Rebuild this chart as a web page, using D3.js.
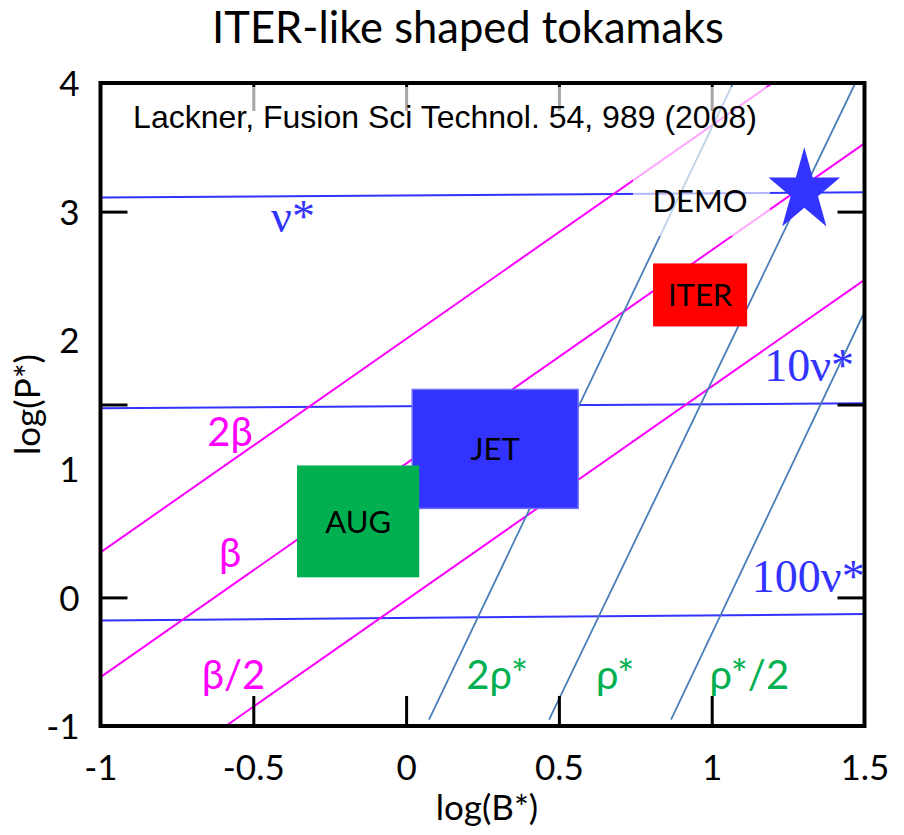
<!DOCTYPE html>
<html>
<head>
<meta charset="utf-8">
<script src="https://cdn.jsdelivr.net/npm/d3@7"></script>
<style>
  body { margin: 0; background: #fff; }
  svg { display: block; }
</style>
</head>
<body>
<svg id="chart" width="904" height="835"></svg>
<script>
// axis ticks and labels
var xTickLabels = [-1, -0.5, 0, 0.5, 1, 1.5];
var yTickLabels = [-1, 0, 1, 2, 3, 4];
var xTickMarks = [-0.5, 0, 0.5, 1];
var yTickMarks = [0, 1.5, 3];

// constant collisionality lines: log(P*) at log(B*) = -1 and 1.5
var nuNames = ["ν*", "10ν*", "100ν*"];
var nuLeft = [3.11, 1.47, -0.18];
var nuRight = [3.15, 1.51, -0.13];

// constant beta lines: [B0, P0, B1, P1]
var betaNames = ["2β", "β", "β/2"];
var betaLines = [[-1, 0.35, 1.199, 4.0], [-1, -0.62, 1.5, 3.53], [-0.59, -1, 1.5, 2.47]];

// constant rho* lines: [B0, P0, B1, P1]
var rhoNames = ["2ρ*", "ρ*", "ρ*/2"];
var rhoLines = [[0.075, -0.95, 1.07, 4.0], [0.468, -0.95, 1.47, 4.0], [0.867, -0.95, 1.5, 2.22]];

// devices (boxes in log B*, log P*)
var devNames = ["JET", "AUG", "ITER"];
var devB0 = [0.020, -0.357, 0.808];
var devB1 = [0.563, 0.043, 1.116];
var devP0 = [0.692, 0.156, 2.107];
var devP1 = [1.617, 1.026, 2.597];

var demoB = 1.303;
var demoP = 3.16;

// ---- layout / style ----
var blue = "#3333ff", magenta = "#ff00ff", steel = "#4a7ebb", green = "#00b050";
var devColors = {JET: "#3333ff", AUG: "#00b050", ITER: "#ff0000"};
var sans = "Lato, 'Noto Sans', sans-serif";
var serif = "'Liberation Serif', 'DejaVu Serif', serif";

// label anchors (data coords: centre x, baseline y)
var nuPos = [[-0.37, 2.84], [1.319, 1.68], [1.316, 0.04]];
var betaPos = [[-0.576, 1.18], [-0.576, 0.233], [-0.565, -0.715]];
var rhoPos = [[0.298, -0.715], [0.684, -0.715], [1.123, -0.715]];

var svg = d3.select("#chart");

var x = d3.scaleLinear().domain([-1, 1.5]).range([100.5, 864.5]);
var y = d3.scaleLinear().domain([-1, 4]).range([726, 83]);

var pLeft = x(-1), pRight = x(1.5), pTop = y(4), pBottom = y(-1);
var fmt = function (d) { return String(d); };

svg.append("text")
    .attr("x", 468).attr("y", 43)
    .attr("text-anchor", "middle")
    .style("font-family", sans).style("font-size", "43.5px")
    .text("ITER-like shaped tokamaks");

svg.append("clipPath").attr("id", "plotclip")
    .append("rect")
    .attr("x", pLeft).attr("y", pTop)
    .attr("width", pRight - pLeft).attr("height", pBottom - pTop);

var plot = svg.append("g").attr("clip-path", "url(#plotclip)");

// nu* lines
plot.selectAll("line.nu").data(nuLeft).enter()
    .append("line").attr("class", "nu")
    .attr("x1", x(-1)).attr("y1", function (d) { return y(d); })
    .attr("x2", x(1.5)).attr("y2", function (d, i) { return y(nuRight[i]); })
    .attr("stroke", blue).attr("stroke-width", 2);

// beta lines
plot.selectAll("line.beta").data(betaLines).enter()
    .append("line").attr("class", "beta")
    .attr("x1", function (d) { return x(d[0]); }).attr("y1", function (d) { return y(d[1]); })
    .attr("x2", function (d) { return x(d[2]); }).attr("y2", function (d) { return y(d[3]); })
    .attr("stroke", magenta).attr("stroke-width", 2);

// rho* lines
plot.selectAll("line.rho").data(rhoLines).enter()
    .append("line").attr("class", "rho")
    .attr("x1", function (d) { return x(d[0]); }).attr("y1", function (d) { return y(d[1]); })
    .attr("x2", function (d) { return x(d[2]); }).attr("y2", function (d) { return y(d[3]); })
    .attr("stroke", steel).attr("stroke-width", 1.8);

// tick marks (inside)
var tickStyle = function (g) {
    g.select(".domain").remove();
    g.selectAll(".tick line").attr("stroke", "#000").attr("stroke-width", 3);
};
svg.append("g").attr("transform", "translate(0," + pBottom + ")")
    .call(d3.axisBottom(x).tickValues(xTickMarks).tickSize(-30).tickFormat(""))
    .call(tickStyle);
svg.append("g").attr("transform", "translate(0," + pTop + ")")
    .call(d3.axisTop(x).tickValues(xTickMarks).tickSize(-28).tickFormat(""))
    .call(tickStyle);
svg.append("g").attr("transform", "translate(" + pLeft + ",0)")
    .call(d3.axisLeft(y).tickValues(yTickMarks).tickSize(-27).tickFormat(""))
    .call(tickStyle);
svg.append("g").attr("transform", "translate(" + pRight + ",0)")
    .call(d3.axisRight(y).tickValues(yTickMarks).tickSize(-27).tickFormat(""))
    .call(tickStyle);

// translucent text boxes (reference + DEMO)
svg.append("rect").attr("x", 120).attr("y", pTop + 4).attr("width", 650).attr("height", 56)
    .attr("fill", "#fff").attr("opacity", 0.65);
svg.append("rect").attr("x", 633).attr("y", pTop + 60).attr("width", 137).attr("height", 93)
    .attr("fill", "#fff").attr("opacity", 0.65);

svg.append("text")
    .attr("x", 445).attr("y", 128)
    .attr("text-anchor", "middle")
    .style("font-family", "'Liberation Sans', Arial, sans-serif").style("font-size", "32px")
    .text("Lackner, Fusion Sci Technol. 54, 989 (2008)");

// device boxes
var order = [0, 1, 2];
var boxes = svg.selectAll("g.dev").data(order).enter().append("g").attr("class", "dev");
boxes.append("rect")
    .attr("x", function (i) { return x(devB0[i]); })
    .attr("y", function (i) { return y(devP1[i]); })
    .attr("width", function (i) { return x(devB1[i]) - x(devB0[i]); })
    .attr("height", function (i) { return y(devP0[i]) - y(devP1[i]); })
    .attr("fill", function (i) { return devColors[devNames[i]]; })
    .attr("stroke", function (i) { return devNames[i] === "JET" ? "#6f6fff" : "none"; })
    .attr("stroke-width", 1.5);
boxes.append("text")
    .attr("x", function (i) { return (x(devB0[i]) + x(devB1[i])) / 2; })
    .attr("y", function (i) { return (y(devP0[i]) + y(devP1[i])) / 2; })
    .attr("dy", "0.36em")
    .attr("text-anchor", "middle")
    .style("font-family", sans).style("font-size", "31px")
    .text(function (i) { return devNames[i]; });

// DEMO
svg.append("text")
    .attr("x", 700).attr("y", 212)
    .attr("text-anchor", "middle")
    .style("font-family", sans).style("font-size", "31px")
    .text("DEMO");
svg.append("path")
    .attr("d", d3.symbol().type(d3.symbolStar).size(2150)())
    .attr("transform", "translate(" + x(demoB) + "," + y(demoP) + ") scale(0.86,1)")
    .attr("fill", blue);

// frame
svg.append("rect")
    .attr("x", pLeft).attr("y", pTop)
    .attr("width", pRight - pLeft).attr("height", pBottom - pTop)
    .attr("fill", "none").attr("stroke", "#000").attr("stroke-width", 4);

// tick labels
var xl = svg.append("g").attr("transform", "translate(0," + pBottom + ")")
    .call(d3.axisBottom(x).tickValues(xTickLabels).tickSize(0).tickFormat(fmt));
xl.select(".domain").remove();
xl.selectAll("text").attr("y", 54).attr("dy", 0)
    .style("font-family", sans).style("font-size", "35px").attr("fill", "#000");

var yl = svg.append("g").attr("transform", "translate(" + pLeft + ",0)")
    .call(d3.axisLeft(y).tickValues(yTickLabels).tickSize(0).tickFormat(fmt));
yl.select(".domain").remove();
yl.selectAll("text").attr("x", -21).attr("dy", "0.36em")
    .style("font-family", sans).style("font-size", "35px").attr("fill", "#000");

// axis titles
svg.append("text")
    .attr("x", 487).attr("y", 820)
    .attr("text-anchor", "middle")
    .style("font-family", sans).style("font-size", "35px")
    .text("log(B*)");
svg.append("text")
    .attr("transform", "translate(40," + ((pTop + pBottom) / 2) + ") rotate(-90)")
    .attr("text-anchor", "middle")
    .style("font-family", sans).style("font-size", "35px")
    .text("log(P*)");

// line labels
svg.selectAll("text.nu").data(nuNames).enter().append("text").attr("class", "nu")
    .attr("x", function (d, i) { return x(nuPos[i][0]); })
    .attr("y", function (d, i) { return y(nuPos[i][1]); })
    .attr("text-anchor", "middle")
    .attr("fill", blue)
    .style("font-family", serif).style("font-size", "46px")
    .text(function (d) { return d; });

svg.selectAll("text.beta").data(betaNames).enter().append("text").attr("class", "beta")
    .attr("x", function (d, i) { return x(betaPos[i][0]); })
    .attr("y", function (d, i) { return y(betaPos[i][1]); })
    .attr("text-anchor", "middle")
    .attr("fill", magenta)
    .style("font-family", sans).style("font-size", "40px")
    .text(function (d) { return d; });

svg.selectAll("text.rho").data(rhoNames).enter().append("text").attr("class", "rho")
    .attr("x", function (d, i) { return x(rhoPos[i][0]); })
    .attr("y", function (d, i) { return y(rhoPos[i][1]); })
    .attr("text-anchor", "middle")
    .attr("fill", green)
    .style("font-family", sans).style("font-size", "40px")
    .text(function (d) { return d; });
</script>
</body>
</html>
